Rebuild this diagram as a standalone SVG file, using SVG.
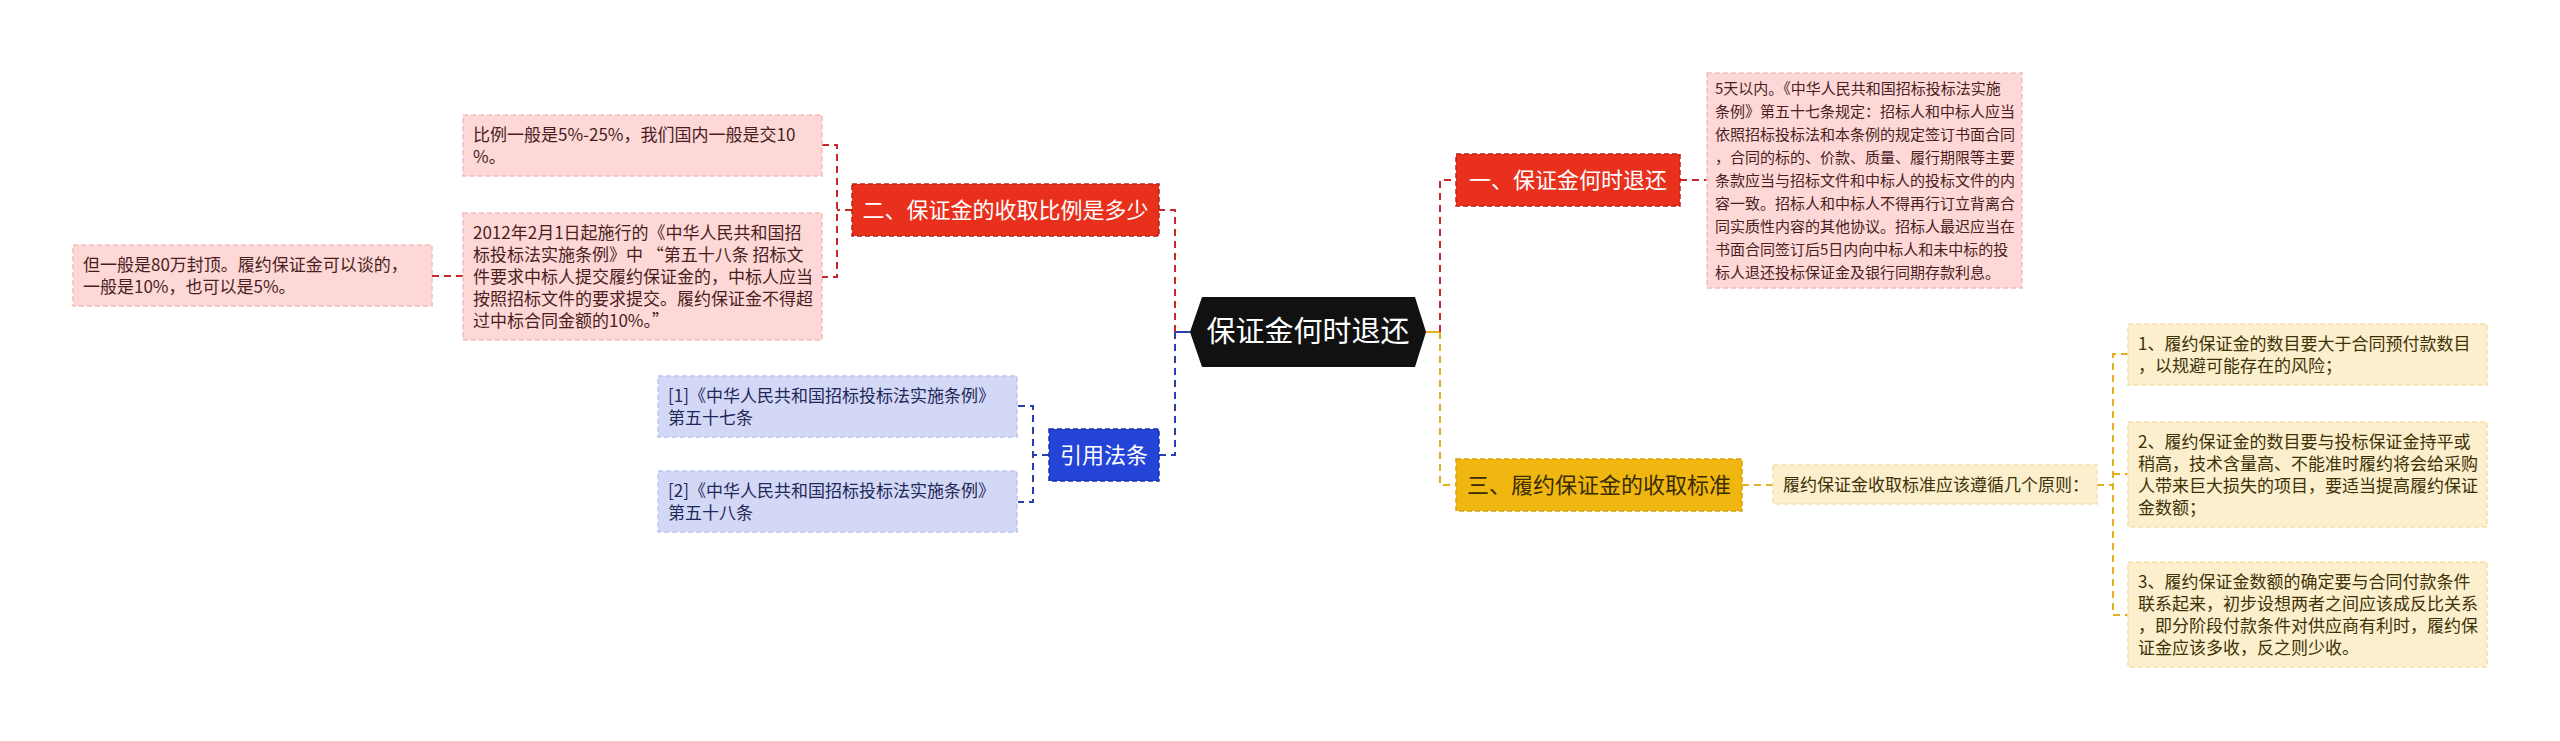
<svg xmlns="http://www.w3.org/2000/svg" width="2560" height="741" viewBox="0 0 2560 741">
<style>
text{font-family:"Noto Sans CJK SC","Noto Sans",sans-serif;}
.t{font-size:17px;}
.t15{font-size:15px;}
.pinkbox{fill:#FDD8D7;stroke:#F4BDBC;stroke-width:1.5;stroke-dasharray:5 3;}
.pinkt{fill:#4A1E1E;}
.bluebox{fill:#D3D8F6;stroke:#BDC5EE;stroke-width:1.5;stroke-dasharray:5 3;}
.bluet{fill:#1F2858;}
.ylbox{fill:#FCEFCE;stroke:#F3DFA8;stroke-width:1.5;stroke-dasharray:5 3;}
.ylt{fill:#3D3206;}
.node{stroke-width:1.5;stroke-dasharray:5 3;}
.nt{font-size:22px;text-anchor:middle;}
.cr{fill:none;stroke:#C8282A;stroke-width:2;stroke-dasharray:7 5;}
.cb{fill:none;stroke:#2A3FB0;stroke-width:2;stroke-dasharray:7 5;}
.cy{fill:none;stroke:#E2AE22;stroke-width:2;stroke-dasharray:7 5;}
</style>
<rect width="2560" height="741" fill="#FFFFFF"/>
<g id="connectors">
<path d="M1190,332 H1175" fill="none" stroke="#2A3FB0" stroke-width="2"/>
<path class="cr" d="M1175,332 V210 H1159"/>
<path class="cb" d="M1175,332 V455 H1159"/>
<path d="M1426,332 H1440" fill="none" stroke="#E2AE22" stroke-width="2"/>
<path class="cr" d="M1440,332 V180 H1456"/>
<path class="cy" d="M1440,332 V485 H1456"/>
<path class="cr" d="M1680,180 H1707"/>
<path class="cr" d="M852,210 H837"/>
<path class="cr" d="M822,145 H837 V277 H822"/>
<path class="cr" d="M463,276 H432"/>
<path class="cb" d="M1049,455 H1033"/>
<path class="cb" d="M1018,406 H1033 V502 H1018"/>
<path class="cy" d="M1742,485 H1773"/>
<path class="cy" d="M2097,485 H2113"/>
<path class="cy" d="M2128,354 H2113 V615 H2128"/>
<path class="cy" d="M2113,474 H2128"/>
</g>
<g id="root">
<polygon points="1190,332 1202,297 1415,297 1426,332 1415,367 1202,367" fill="#111111"/>
<text x="1308" y="342" font-size="29" fill="#FFFFFF" text-anchor="middle">保证金何时退还</text>
</g>
<g id="n1">
<rect class="node" x="1456" y="154" width="224" height="52" fill="#E8301D" stroke="#B8201A"/>
<text class="nt" x="1568" y="188" fill="#FFFFFF">一、保证金何时退还</text>
</g>
<g id="n1a">
<rect class="pinkbox" x="1707" y="73" width="315" height="215"/>
<text class="t15 pinkt" x="1715" y="94">
<tspan x="1715">5天以内。《中华人民共和国招标投标法实施</tspan>
<tspan x="1715" dy="23">条例》第五十七条规定：招标人和中标人应当</tspan>
<tspan x="1715" dy="23">依照招标投标法和本条例的规定签订书面合同</tspan>
<tspan x="1715" dy="23">，合同的标的、价款、质量、履行期限等主要</tspan>
<tspan x="1715" dy="23">条款应当与招标文件和中标人的投标文件的内</tspan>
<tspan x="1715" dy="23">容一致。招标人和中标人不得再行订立背离合</tspan>
<tspan x="1715" dy="23">同实质性内容的其他协议。招标人最迟应当在</tspan>
<tspan x="1715" dy="23">书面合同签订后5日内向中标人和未中标的投</tspan>
<tspan x="1715" dy="23">标人退还投标保证金及银行同期存款利息。</tspan>
</text>
</g>
<g id="n2">
<rect class="node" x="852" y="184" width="307" height="52" fill="#E8301D" stroke="#B8201A"/>
<text class="nt" x="1005.5" y="218" fill="#FFFFFF">二、保证金的收取比例是多少</text>
</g>
<g id="n2a">
<rect class="pinkbox" x="463" y="115" width="359" height="61"/>
<text class="t pinkt" x="473" y="140.5">
<tspan x="473">比例一般是5%-25%，我们国内一般是交10</tspan>
<tspan x="473" dy="22">%。</tspan>
</text>
</g>
<g id="n2b">
<rect class="pinkbox" x="463" y="213" width="359" height="127"/>
<text class="t pinkt" x="473" y="238.5">
<tspan x="473">2012年2月1日起施行的《中华人民共和国招</tspan>
<tspan x="473" dy="22">标投标法实施条例》中 “第五十八条 招标文</tspan>
<tspan x="473" dy="22">件要求中标人提交履约保证金的，中标人应当</tspan>
<tspan x="473" dy="22">按照招标文件的要求提交。履约保证金不得超</tspan>
<tspan x="473" dy="22">过中标合同金额的10%。”</tspan>
</text>
</g>
<g id="n2b1">
<rect class="pinkbox" x="73" y="245" width="359" height="61"/>
<text class="t pinkt" x="83" y="270.5">
<tspan x="83">但一般是80万封顶。履约保证金可以谈的，</tspan>
<tspan x="83" dy="22">一般是10%，也可以是5%。</tspan>
</text>
</g>
<g id="n4">
<rect class="node" x="1049" y="429" width="110" height="52" fill="#2444D8" stroke="#1A30A8"/>
<text class="nt" x="1104" y="463" fill="#FFFFFF">引用法条</text>
</g>
<g id="n4a">
<rect class="bluebox" x="658" y="376" width="359" height="61"/>
<text class="t bluet" x="668" y="401.5">
<tspan x="668">[1]《中华人民共和国招标投标法实施条例》</tspan>
<tspan x="668" dy="22">第五十七条</tspan>
</text>
</g>
<g id="n4b">
<rect class="bluebox" x="658" y="471" width="359" height="61"/>
<text class="t bluet" x="668" y="496.5">
<tspan x="668">[2]《中华人民共和国招标投标法实施条例》</tspan>
<tspan x="668" dy="22">第五十八条</tspan>
</text>
</g>
<g id="n3">
<rect class="node" x="1456" y="459" width="286" height="52" fill="#F0B710" stroke="#D9A20A"/>
<text class="nt" x="1599" y="493" fill="#3A2C04">三、履约保证金的收取标准</text>
</g>
<g id="n3a">
<rect class="ylbox" x="1773" y="465" width="324" height="39"/>
<text class="t ylt" x="1783" y="490.5">履约保证金收取标准应该遵循几个原则：</text>
</g>
<g id="n3a1">
<rect class="ylbox" x="2128" y="324" width="359" height="61"/>
<text class="t ylt" x="2138" y="349.5">
<tspan x="2138">1、履约保证金的数目要大于合同预付款数目</tspan>
<tspan x="2138" dy="22">，以规避可能存在的风险；</tspan>
</text>
</g>
<g id="n3a2">
<rect class="ylbox" x="2128" y="422" width="359" height="105"/>
<text class="t ylt" x="2138" y="447.5">
<tspan x="2138">2、履约保证金的数目要与投标保证金持平或</tspan>
<tspan x="2138" dy="22">稍高，技术含量高、不能准时履约将会给采购</tspan>
<tspan x="2138" dy="22">人带来巨大损失的项目，要适当提高履约保证</tspan>
<tspan x="2138" dy="22">金数额；</tspan>
</text>
</g>
<g id="n3a3">
<rect class="ylbox" x="2128" y="562" width="359" height="105"/>
<text class="t ylt" x="2138" y="587.5">
<tspan x="2138">3、履约保证金数额的确定要与合同付款条件</tspan>
<tspan x="2138" dy="22">联系起来，初步设想两者之间应该成反比关系</tspan>
<tspan x="2138" dy="22">，即分阶段付款条件对供应商有利时，履约保</tspan>
<tspan x="2138" dy="22">证金应该多收，反之则少收。</tspan>
</text>
</g>
</svg>
